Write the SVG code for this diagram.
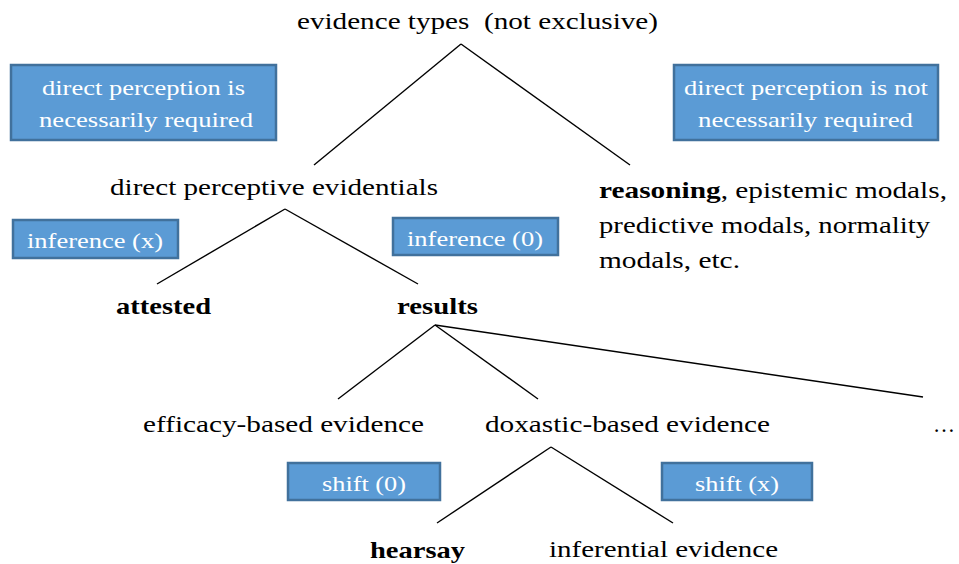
<svg xmlns="http://www.w3.org/2000/svg" width="959" height="564" viewBox="0 0 959 564">
<style>
.t{font-family:'Liberation Serif','DejaVu Serif','Times New Roman',serif;font-size:24px;fill:#000}
.pre{white-space:pre}
.b{font-weight:bold}
.box{fill:#5B9BD5;stroke:#41719C;stroke-width:2.5}
.bt{font-family:'Liberation Serif','DejaVu Serif','Times New Roman',serif;font-size:21px;fill:#fff}
.ln{stroke:#000;stroke-width:1.4;fill:none}
</style>
<rect width="959" height="564" fill="#fff"/>
<g id="connectors">
<line class="ln" x1="461" y1="44" x2="314" y2="165"/>
<line class="ln" x1="461" y1="44" x2="630" y2="165"/>
<line class="ln" x1="285" y1="209" x2="157" y2="284"/>
<line class="ln" x1="285" y1="209" x2="418" y2="284"/>
<line class="ln" x1="435" y1="325" x2="338" y2="399"/>
<line class="ln" x1="435" y1="325" x2="538" y2="399"/>
<line class="ln" x1="435" y1="325" x2="923" y2="397"/>
<line class="ln" x1="551" y1="447" x2="437" y2="523"/>
<line class="ln" x1="551" y1="447" x2="673" y2="523"/>
</g>
<g id="root"><text class="t pre" x="297" y="29" textLength="361" lengthAdjust="spacingAndGlyphs">evidence types  (not exclusive)</text></g>
<g id="box-required">
<rect class="box" x="11" y="65" width="265" height="75"/>
<text class="bt" x="42" y="95" textLength="203" lengthAdjust="spacingAndGlyphs">direct perception is</text>
<text class="bt" x="39" y="127" textLength="214" lengthAdjust="spacingAndGlyphs">necessarily required</text>
</g>
<g id="box-not-required">
<rect class="box" x="674" y="65" width="264" height="75"/>
<text class="bt" x="684" y="95" textLength="244" lengthAdjust="spacingAndGlyphs">direct perception is not</text>
<text class="bt" x="698" y="127" textLength="215" lengthAdjust="spacingAndGlyphs">necessarily required</text>
</g>
<g id="direct-perceptive"><text class="t" x="110" y="195" textLength="328" lengthAdjust="spacingAndGlyphs">direct perceptive evidentials</text></g>
<g id="reasoning">
<text class="t" x="599" y="198" textLength="348" lengthAdjust="spacingAndGlyphs"><tspan class="b">reasoning</tspan>, epistemic modals,</text>
<text class="t" x="599" y="233" textLength="331" lengthAdjust="spacingAndGlyphs">predictive modals, normality</text>
<text class="t" x="599" y="268" textLength="141" lengthAdjust="spacingAndGlyphs">modals, etc.</text>
</g>
<g id="inference-x">
<rect class="box" x="13" y="220" width="165" height="38"/>
<text class="bt" x="27" y="248" textLength="136" lengthAdjust="spacingAndGlyphs">inference (x)</text>
</g>
<g id="inference-0">
<rect class="box" x="393" y="218" width="165" height="37"/>
<text class="bt" x="407" y="246" textLength="136" lengthAdjust="spacingAndGlyphs">inference (0)</text>
</g>
<g id="attested"><text class="t b" x="116" y="314" textLength="95" lengthAdjust="spacingAndGlyphs">attested</text></g>
<g id="results"><text class="t b" x="397" y="314" textLength="81" lengthAdjust="spacingAndGlyphs">results</text></g>
<g id="efficacy"><text class="t" x="143" y="432" textLength="281" lengthAdjust="spacingAndGlyphs">efficacy-based evidence</text></g>
<g id="doxastic"><text class="t" x="485" y="432" textLength="285" lengthAdjust="spacingAndGlyphs">doxastic-based evidence</text></g>
<g id="ellipsis"><text class="t" x="933" y="432" textLength="22" lengthAdjust="spacingAndGlyphs">…</text></g>
<g id="shift-0">
<rect class="box" x="288" y="463" width="152" height="37"/>
<text class="bt" x="322" y="491" textLength="84" lengthAdjust="spacingAndGlyphs">shift (0)</text>
</g>
<g id="shift-x">
<rect class="box" x="662" y="463" width="150" height="37"/>
<text class="bt" x="695" y="491" textLength="84" lengthAdjust="spacingAndGlyphs">shift (x)</text>
</g>
<g id="hearsay"><text class="t b" x="370" y="558" textLength="95" lengthAdjust="spacingAndGlyphs">hearsay</text></g>
<g id="inferential"><text class="t" x="549" y="557" textLength="229" lengthAdjust="spacingAndGlyphs">inferential evidence</text></g>
</svg>
